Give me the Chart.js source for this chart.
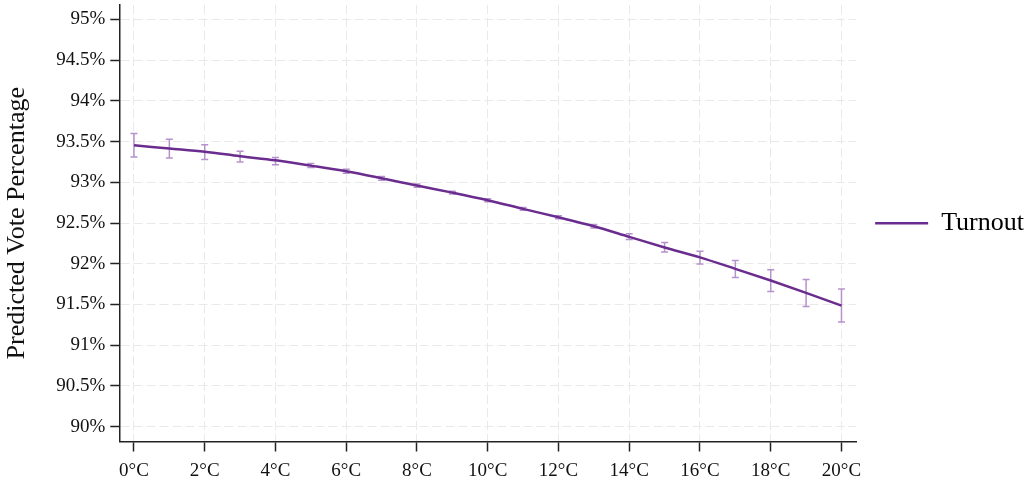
<!DOCTYPE html>
<html>
<head>
<meta charset="utf-8">
<script src="https://cdn.jsdelivr.net/npm/chart.js@4/dist/chart.umd.min.js"></script>
<style>
  html, body { margin: 0; padding: 0; background: #ffffff; }
  #wrap { width: 1029px; height: 487px; position: relative; }
</style>
</head>
<body>
<div id="wrap"><canvas id="chart"></canvas></div>
<script>
// Temperature (°C) at which turnout is predicted
const temps = [0, 1, 2, 3, 4, 5, 6, 7, 8, 9, 10, 11, 12, 13, 14, 15, 16, 17, 18, 19, 20];
// Predicted turnout (%) and its confidence bounds
const turnout = [93.455, 93.415, 93.375, 93.32, 93.27, 93.205, 93.135, 93.05, 92.96, 92.873, 92.78,
                 92.674, 92.57, 92.46, 92.33, 92.2, 92.078, 91.937, 91.793, 91.642, 91.485];
const lowerCI = [93.31, 93.30, 93.28, 93.25, 93.215, 93.183, 93.11, 93.025, 92.94, 92.855, 92.762,
                 92.656, 92.552, 92.44, 92.298, 92.145, 91.997, 91.832, 91.658, 91.473, 91.285];
const upperCI = [93.60, 93.53, 93.46, 93.38, 93.305, 93.232, 93.16, 93.07, 92.98, 92.891, 92.798,
                 92.692, 92.588, 92.48, 92.368, 92.262, 92.153, 92.038, 91.925, 91.805, 91.688];
// Axis ticks
const xTicks = [0, 2, 4, 6, 8, 10, 12, 14, 16, 18, 20];
const yTicks = [90, 90.5, 91, 91.5, 92, 92.5, 93, 93.5, 94, 94.5, 95];

const LINE = '#6a2c8e';
const BAR = '#b592cc';
const FONT = '"Liberation Serif", "DejaVu Serif", serif';

// Vertical confidence-interval whiskers with caps, drawn under the fitted line
const errorBars = {
  id: 'errorBars',
  beforeDatasetsDraw(chart) {
    const { ctx, scales: { x, y }, chartArea } = chart;
    ctx.save();
    ctx.beginPath();
    ctx.rect(chartArea.left, chartArea.top, chartArea.right - chartArea.left, chartArea.bottom - chartArea.top);
    ctx.clip();
    ctx.strokeStyle = BAR;
    ctx.lineWidth = 1.5;
    const cap = 3.5;
    temps.forEach((t, i) => {
      const px = x.getPixelForValue(t);
      const yTop = y.getPixelForValue(upperCI[i]);
      const yBot = y.getPixelForValue(lowerCI[i]);
      ctx.beginPath();
      ctx.moveTo(px, yTop); ctx.lineTo(px, yBot);
      ctx.moveTo(px - cap, yTop); ctx.lineTo(px + cap, yTop);
      ctx.moveTo(px - cap, yBot); ctx.lineTo(px + cap, yBot);
      ctx.stroke();
    });
    ctx.restore();
  }
};

// Keep the plot area edges fixed regardless of how far the edge labels reach
const noEdgePadding = (scale) => {
  scale.paddingTop = 0;
  scale.paddingBottom = 0;
  scale.paddingLeft = 0;
  scale.paddingRight = 0;
};

new Chart(document.getElementById('chart'), {
  type: 'line',
  data: {
    datasets: [{
      label: 'Turnout',
      data: temps.map((t, i) => ({ x: t, y: turnout[i] })),
      borderColor: LINE,
      backgroundColor: LINE,
      borderWidth: 2.5,
      pointRadius: 0,
      cubicInterpolationMode: 'monotone',
      fill: false
    }]
  },
  options: {
    responsive: true,
    maintainAspectRatio: false,
    animation: false,
    devicePixelRatio: 1,
    layout: { padding: { top: 5, left: 0, right: -5, bottom: 0 } },
    plugins: {
      tooltip: { enabled: false },
      legend: {
        position: 'right',
        fullSize: false,
        labels: {
          font: { family: FONT, size: 26 },
          color: '#111',
          padding: 19,
          usePointStyle: true,
          pointStyle: 'line',
          pointStyleWidth: 53,
          generateLabels: () => [{
            text: 'Turnout',
            strokeStyle: LINE,
            fillStyle: LINE,
            lineWidth: 2.5,
            pointStyle: 'line',
            datasetIndex: 0,
            hidden: false
          }]
        }
      }
    },
    scales: {
      x: {
        type: 'linear',
        min: -0.415,
        max: 20.415,
        afterBuildTicks: (scale) => { scale.ticks = xTicks.map(v => ({ value: v })); },
        afterFit: (scale) => { scale.height = 45.5; noEdgePadding(scale); },
        grid: {
          color: '#e9e9e9',
          lineWidth: 1,
          tickColor: '#222',
          tickWidth: 1.5,
          tickLength: 10
        },
        border: { display: true, color: '#222', width: 1.5, dash: [9, 4] },
        ticks: {
          font: { family: FONT, size: 19 },
          color: '#111',
          padding: 8,
          maxRotation: 0,
          autoSkip: false,
          callback: (v) => v + '°C'
        }
      },
      y: {
        type: 'linear',
        min: 89.816,
        max: 95.178,
        afterBuildTicks: (scale) => { scale.ticks = yTicks.map(v => ({ value: v })); },
        afterFit: (scale) => { scale.width = 119.3; noEdgePadding(scale); },
        grid: {
          color: '#e9e9e9',
          lineWidth: 1,
          tickColor: '#222',
          tickWidth: 1.5,
          tickLength: 9
        },
        border: { display: true, color: '#222', width: 1.5, dash: [9, 4] },
        title: {
          display: true,
          text: 'Predicted Vote Percentage',
          font: { family: FONT, size: 26 },
          color: '#111',
          padding: { top: 2, bottom: 0 }
        },
        ticks: {
          font: { family: FONT, size: 19 },
          color: '#111',
          padding: 5,
          autoSkip: false,
          callback: (v) => v + '%'
        }
      }
    }
  },
  plugins: [errorBars]
});
</script>
</body>
</html>
